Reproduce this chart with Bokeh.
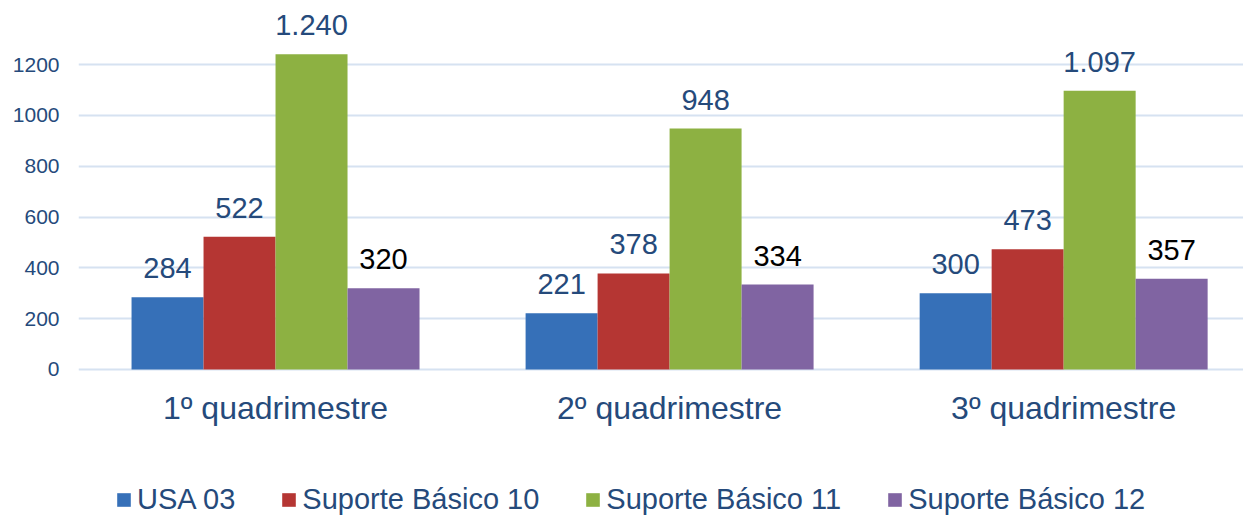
from bokeh.plotting import figure
from bokeh.layouts import column
from bokeh.models import ColumnDataSource, Range1d, FixedTicker, Legend, LegendItem
from bokeh.core.properties import value
from bokeh.embed import file_html
from bokeh.resources import INLINE

categories = ["1º quadrimestre", "2º quadrimestre", "3º quadrimestre"]
series = ["USA 03", "Suporte Básico 10", "Suporte Básico 11", "Suporte Básico 12"]
usa_03 = [284, 221, 300]
suporte_10 = [522, 378, 473]
suporte_11 = [1240, 948, 1097]
suporte_12 = [320, 334, 357]
y_ticks = [0, 200, 400, 600, 800, 1000, 1200]

values = [usa_03, suporte_10, suporte_11, suporte_12]
colors = ["#3670B8", "#B53633", "#8DB142", "#8064A2"]
label_colors = ["#254A7B", "#254A7B", "#254A7B", "#000000"]

FONT = "Liberation Sans"
DARK = "#254A7B"

p = figure(width=1243, height=440, output_backend="svg", toolbar_location=None,
           x_range=Range1d(-0.5, 2.4564), y_range=Range1d(-8, 1452),
           min_border_left=78, min_border_right=0, min_border_top=0,
           min_border_bottom=69)
p.outline_line_color = None
p.background_fill_color = "white"
p.border_fill_color = "white"

bw = 0.1827
for i, (name, vals) in enumerate(zip(series, values)):
    off = (i - 1.5) * bw
    xs = [j + off for j in range(len(categories))]
    labels = ["{:,}".format(v).replace(",", ".") for v in vals]
    src = ColumnDataSource(dict(x=xs, top=vals, label=labels))
    p.vbar(x="x", top="top", bottom=0, width=bw, source=src,
           fill_color=colors[i], line_color=None)
    p.text(x="x", y="top", text="label", source=src, text_align="center",
           text_baseline="alphabetic", y_offset=-29,
           text_font=value(FONT), text_font_size="29px",
           text_color=label_colors[i])

# axes
p.xaxis.ticker = FixedTicker(ticks=list(range(len(categories))))
p.xaxis.major_label_overrides = {i: c for i, c in enumerate(categories)}
p.xaxis.axis_line_color = None
p.xaxis.major_tick_line_color = None
p.xaxis.minor_tick_line_color = None
p.xaxis.major_tick_out = 0
p.xaxis.major_label_standoff = 18
p.xaxis.major_label_text_font = FONT
p.xaxis.major_label_text_font_size = "32px"
p.xaxis.major_label_text_color = DARK

p.yaxis.ticker = FixedTicker(ticks=y_ticks)
p.yaxis.axis_line_color = None
p.yaxis.major_tick_line_color = None
p.yaxis.minor_tick_line_color = None
p.yaxis.major_tick_out = 0
p.yaxis.major_label_standoff = 19
p.yaxis.major_label_text_font = FONT
p.yaxis.major_label_text_font_size = "21px"
p.yaxis.major_label_text_color = DARK

p.xgrid.grid_line_color = None
p.ygrid.ticker = FixedTicker(ticks=y_ticks)
p.ygrid.grid_line_color = "#D6E2F1"
p.ygrid.grid_line_width = 2

# legend strip
lg = figure(width=1243, height=76, output_backend="svg", toolbar_location=None,
            x_range=Range1d(0, 1), y_range=Range1d(0, 1),
            x_axis_location=None, y_axis_location=None,
            min_border_left=0, min_border_right=0, min_border_top=0,
            min_border_bottom=0)
lg.outline_line_color = None
lg.xgrid.grid_line_color = None
lg.ygrid.grid_line_color = None
items = []
for i, name in enumerate(series):
    r = lg.vbar(x=[0.5], top=[1], width=0.1, fill_color=colors[i],
                line_color=None, visible=False)
    items.append(LegendItem(label=name, renderers=[r]))

legend = Legend(items=items, orientation="horizontal", location=(37, 0),
                glyph_width=17, glyph_height=17, label_standoff=5, spacing=45,
                padding=0, margin=0, border_line_color=None,
                background_fill_alpha=0, inactive_fill_alpha=0,
                label_text_font=FONT, label_text_font_size="29px",
                label_text_color=DARK)
lg.add_layout(legend, "center")

layout = column(p, lg, spacing=0)
open("out.html", "w").write(file_html(layout, INLINE))
